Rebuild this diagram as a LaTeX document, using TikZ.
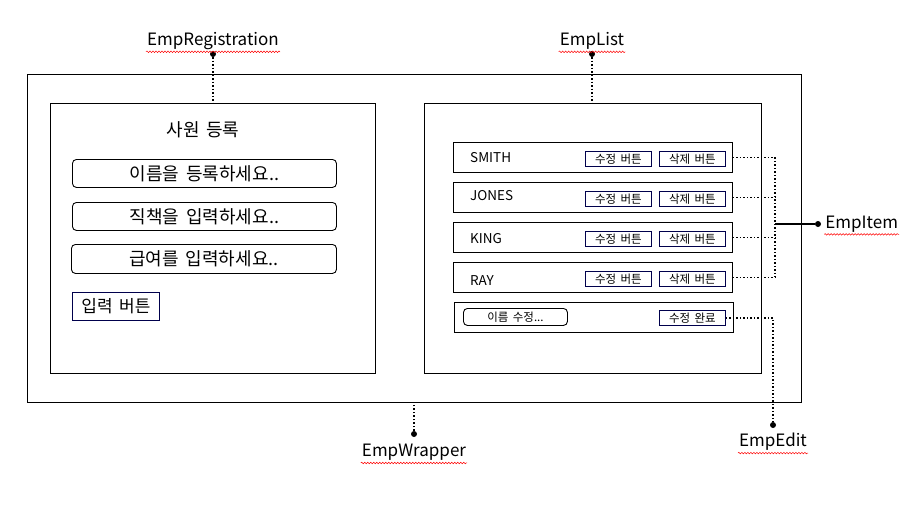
\documentclass[tikz,border=0pt]{standalone}
\usepackage{fontspec}
\setmainfont[WordSpace=1.7]{Noto Sans CJK KR}
\usetikzlibrary{positioning,decorations.pathmorphing}

\tikzset{
  box/.style={draw, line width=0.9pt, anchor=north west, inner sep=0pt},
  field/.style={draw, line width=0.9pt, rounded corners=4pt, anchor=north west, inner sep=0pt, font=\fontsize{18}{18}\selectfont},
  btn/.style={draw=black!70!blue, line width=0.9pt, anchor=north west, inner sep=0pt, minimum width=66pt, minimum height=15pt, font=\fontsize{11.5}{11.5}\selectfont},
  link/.style={line width=1.5pt, dotted},
  pin/.style={circle, fill, inner sep=0pt, minimum size=6pt},
  tag/.style={font=\fontsize{17}{17}\selectfont, inner sep=1pt},
  spell/.style={red, line width=0.5pt, decorate, decoration={snake, amplitude=0.8pt, segment length=3pt}}
}

\begin{document}
\begin{tikzpicture}[x=1pt, y=-1pt]
  \useasboundingbox (0,0) rectangle (921,512);

  % wrapper and the two panels
  \node[box, minimum width=774pt, minimum height=328pt] (wrap) at (27,74) {};
  \node[box, minimum width=325pt, minimum height=270pt] (reg) at (50,103) {};
  \node[box, minimum width=337pt, minimum height=270pt] (list) at (424,103) {};

  % registration form
  \node[font=\fontsize{18}{18}\selectfont] (title) at (203,130) {사원 등록};
  \node[field, minimum width=264pt, minimum height=28pt] (fname) at (72,159) {이름을 등록하세요..};
  \node[field, minimum width=264pt, minimum height=28pt] (fjob) at (72,202) {직책을 입력하세요..};
  \node[field, minimum width=265pt, minimum height=29pt] (fpay) at (71,244) {급여를 입력하세요..};
  \node[btn, minimum width=87pt, minimum height=28pt, font=\fontsize{17}{17}\selectfont] (add) at (72,292) {입력 버튼};

  % employee rows
  \foreach \nm/\y/\dy [count=\i] in {SMITH/142/0, JONES/182/-2, KING/222/1, RAY/262/3} {
    \node[box, minimum width=279pt, minimum height=30pt] (row\i) at (453,\y) {};
    \node[anchor=west, inner sep=0pt, font=\fontsize{13.5}{13.5}\selectfont] (name\i) at ([xshift=17pt, yshift=-\dy pt]row\i.west) {\nm};
    \node[btn] (edit\i) at (585,\y+9) {수정 버튼};
    \node[btn] (del\i) at (659,\y+9) {삭제 버튼};
  }

  % edit row
  \node[box, minimum width=279pt, minimum height=30pt] (row5) at (454,302) {};
  \node[field, minimum width=104pt, minimum height=17pt, font=\fontsize{11.5}{11.5}\selectfont] (rename) at (463,308) {이름 수정...};
  \node[btn] (done) at (659,310) {수정 완료};

  % labels
  \node[pin] (regpin) at (213,54) {};
  \node[tag, above=0pt of regpin] (regtag) {EmpRegistration};
  \draw[link] (regpin) -- (regpin |- reg.north);

  \node[pin] (listpin) at (592,54) {};
  \node[tag, above=0pt of listpin] (listtag) {EmpList};
  \draw[link] (listpin) -- (listpin |- list.north);

  \node[pin] (wrappin) at (414,434) {};
  \node[tag, below=6pt of wrappin] (wraptag) {EmpWrapper};
  \draw[link] (wrappin) -- (wrappin |- wrap.south);

  \coordinate (hub) at (775,224);
  \foreach \i in {1,...,4}
    \draw[link] (row\i.east) -- (row\i.east -| hub);
  \draw[link] (hub |- row1.east) -- (hub |- row4.east);
  \node[pin] (itempin) at (818,224) {};
  \draw[line width=1.8pt] (hub) -- (itempin);
  \node[tag, right=3pt of itempin] (itemtag) {EmpItem};

  \node[pin] (editpin) at (773,425) {};
  \node[tag, below=4pt of editpin] (edittag) {EmpEdit};
  \draw[link] (done.east) -- (done.east -| editpin) -- (editpin);

  % spell check marks
  \foreach \t in {regtag, listtag, wraptag, itemtag, edittag}
    \draw[spell] ([yshift=-1pt]\t.south west) -- ([yshift=-1pt]\t.south east);
\end{tikzpicture}
\end{document}
